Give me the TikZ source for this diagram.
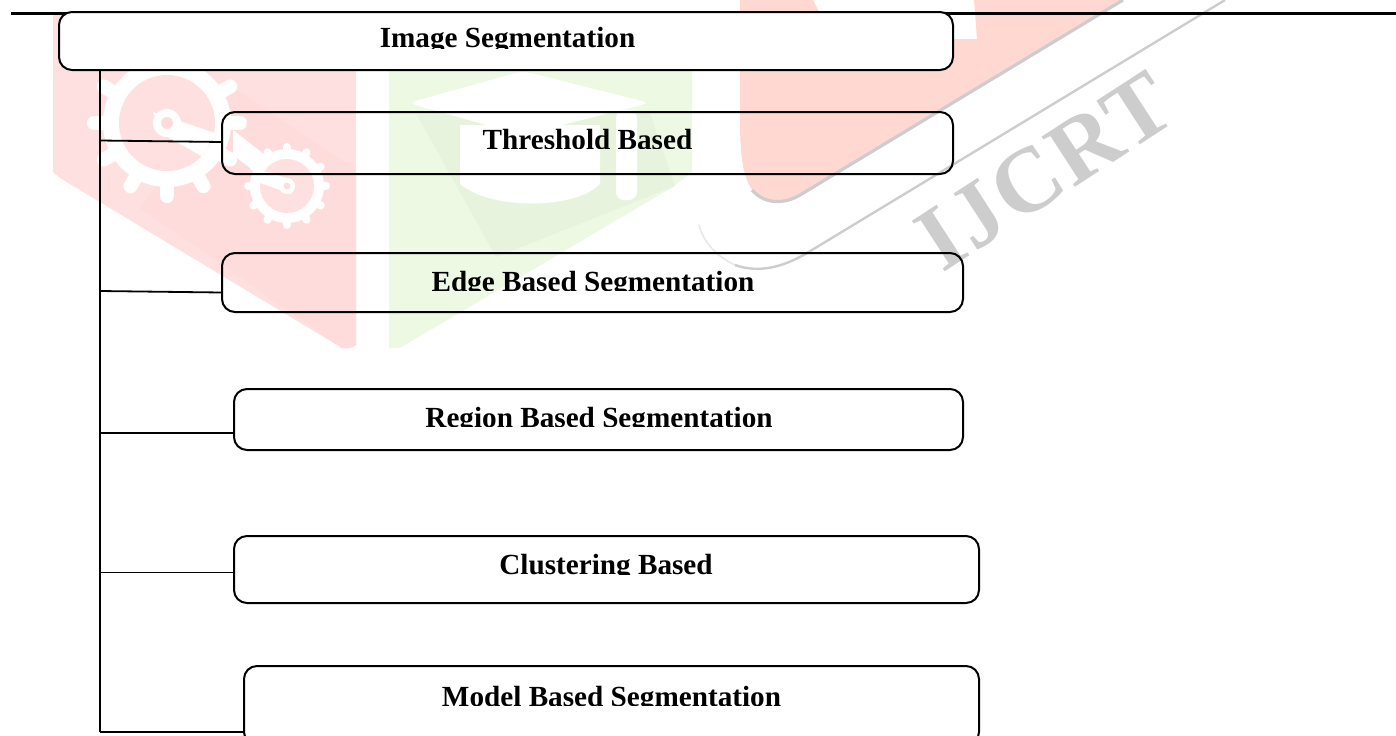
\documentclass[tikz,border=0pt]{standalone}
\usepackage{fontspec}
\setmainfont{Liberation Serif}
\definecolor{markred}{RGB}{255,224,224}
\definecolor{markreddark}{RGB}{254,220,220}
\definecolor{markgreen}{RGB}{238,249,228}
\definecolor{markgreendark}{RGB}{231,243,221}
\definecolor{markorange}{RGB}{255,217,209}
\definecolor{markgrey}{RGB}{205,205,205}
\definecolor{markgreyfaint}{RGB}{232,232,232}

\begin{document}
\begin{tikzpicture}[x=0.5pt, y=-0.5pt]
        \tikzset{every node/.style={outer sep=0, inner sep=0},
                segbox/.style={draw=black, rounded corners=6.5pt, line width=1pt},
                labeltext/.style={anchor=base, font=\bfseries\fontsize{14.6}{16}\selectfont},
                branch/.style={draw=black, line width=0.9pt}}

        \path[use as bounding box, clip] (0,0) rectangle (1396,735);

        % watermark
        \fill[markred] (53,15) -- (356,15) -- (356,345) -- (350,348) -- (342,348) -- (60,178) -- (53,172) -- cycle;
        \fill[markreddark] (233,87) -- (356,170) -- (356,345) -- (350,348) -- (342,348) -- (140,208) -- cycle;
        \fill[white] (167,123) circle [radius=32pt];
        \foreach \a in {0,30,...,330} {
            \draw[white, line width=7pt, line cap=round] (167,123) ++(\a:60) -- ++(\a:13);
        }
        \fill[markred] (167,123) circle [radius=24pt];
        \fill[white] (153,112) -- (215,133) -- (203,157) -- (159,132) -- cycle;
        \fill[white] (167,123) circle [radius=7pt];
        \fill[markreddark] (167,123) circle [radius=3pt];
        \fill[white] (233,130) -- (287,172) -- (287,196) -- (233,155) -- cycle;
        \fill[white] (287,186) circle [radius=18.5pt];
        \foreach \a in {0,30,...,330} {
            \draw[white, line width=4pt, line cap=round] (287,186) ++(\a:33) -- ++(\a:6);
        }
        \fill[markred] (287,186) circle [radius=13.5pt];
        \fill[white] (260,170) -- (287,178) -- (292,194) -- (260,183) -- cycle;
        \fill[white] (287,186) circle [radius=4pt];
        \fill[markreddark] (287,186) circle [radius=1.7pt];

        \fill[markgreen] (389,60) -- (692,60) -- (692,172) -- (673,187) -- (400,348) -- (389,348) -- cycle;
        \fill[markgreendark] (417,115) -- (496,257) -- (675,186) -- (650,113) -- cycle;
        \fill[white, rounded corners=4pt] (408,103) -- (523,71) -- (650,103) -- (522,135) -- cycle;
        \fill[white] (460,125) -- (600,125) -- (600,184) .. controls (575,210) and (490,210) .. (460,184) -- cycle;
        \fill[white, rounded corners=4pt] (616,110) -- (637,110) -- (637,200) -- (616,200) -- cycle;

        \fill[markorange] (740,0) -- (813,0) -- (822,18) -- (953,39) -- (977,39) -- (974,0) -- (1123,0)
            -- (800,195) .. controls (785,204) and (770,206) .. (760,197)
            .. controls (745,188) and (740,165) .. (740,120) -- cycle;
        \draw[markgrey, line width=1.6pt] (752,190) .. controls (765,205) and (785,204) .. (800,195) -- (1123,0);
        \draw[markgreyfaint, line width=0.8pt] (699,225) .. controls (704,245) and (720,258) .. (735,265);
        \draw[markgrey, line width=1.2pt] (735,265) .. controls (760,274) and (785,266) .. (807,253) -- (1225,0);
        \node[rotate=33, text=markgrey, font=\bfseries\fontsize{46}{50}\selectfont\addfontfeature{LetterSpace=3}] (marktext) at (1045,171) {IJCRT};

        % page rule
        \coordinate (ruleleft) at (11,13);
        \coordinate (ruleright) at (1396,13);
        \draw[black, line width=1.5pt] (ruleleft) -- (ruleright);

        \node[segbox, fill=white, minimum width=447pt, minimum height=29pt] (root) at (506,41) {};
        \node[segbox, minimum width=365.5pt, minimum height=31pt] (threshold) at (587.5,143) {};
        \node[segbox, minimum width=370.5pt, minimum height=29.5pt] (edgebased) at (592.5,282.5) {};
        \node[segbox, minimum width=364.5pt, minimum height=30.5pt] (regionbased) at (598.5,419.5) {};
        \node[segbox, minimum width=372.5pt, minimum height=33.5pt] (clustering) at (606.5,569.5) {};
        \node[segbox, minimum width=367.5pt, minimum height=39.5pt] (modelbased) at (611.5,705.5) {};

        % the lower part of every label is cut off
        \begin{scope}
            \clip (370,20) rectangle (650,48)
                (470,125) rectangle (705,148)
                (420,265) rectangle (765,290)
                (415,400) rectangle (785,426)
                (490,550) rectangle (725,574.5)
                (430,680) rectangle (795,705);
            \node[labeltext] (rootlabel) at (507.5,47.5) {Image Segmentation};
            \node[labeltext] (thresholdlabel) at (587.5,149.2) {Threshold Based};
            \node[labeltext] (edgelabel) at (593,291) {Edge Based Segmentation};
            \node[labeltext] (regionlabel) at (599,427) {Region Based Segmentation};
            \node[labeltext] (clusteringlabel) at (606,574) {Clustering Based};
            \node[labeltext] (modellabel) at (611.5,706) {Model Based Segmentation};
        \end{scope}

        \coordinate (trunk1) at (100,140.5);
        \coordinate (trunk2) at (100,291);
        \coordinate (trunk3) at (100,433);
        \coordinate (trunk4) at (100,572.5);
        \coordinate (trunk5) at (100,732);
        \coordinate (thresholdjoin) at (222,142);
        \coordinate (edgejoin) at (222,292.5);

        \path[branch] (root.south -| trunk1) edge (trunk5);
        \path[branch] (trunk1) edge (thresholdjoin);
        \path[branch] (trunk2) edge (edgejoin);
        \path[branch] (trunk3) edge (trunk3 -| regionbased.west);
        \path[branch] (trunk4) edge (trunk4 -| clustering.west);
        \path[branch] (trunk5) edge (trunk5 -| modelbased.west);

    \end{tikzpicture}
\end{document}
